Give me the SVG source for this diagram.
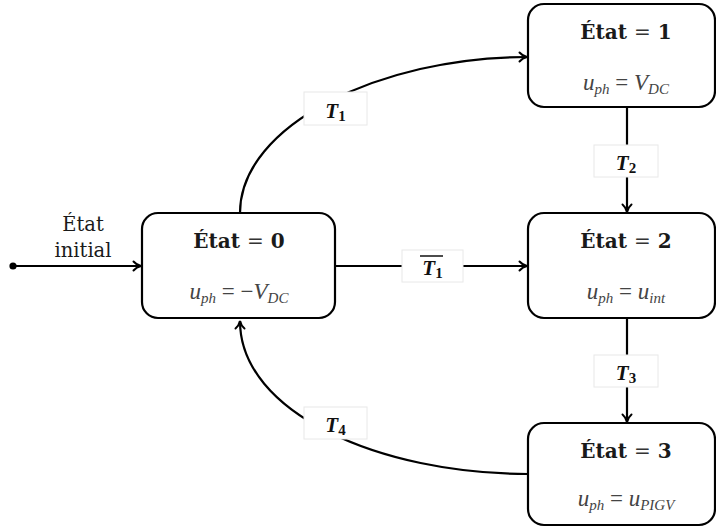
<svg xmlns="http://www.w3.org/2000/svg" width="716" height="528" viewBox="0 0 716 528">
<style>
.node rect{fill:#fff;stroke:#000;stroke-width:2.2}
.title{font-family:"DejaVu Serif","Liberation Serif",serif;font-weight:bold;font-size:20px;fill:#1a1a1a;text-anchor:middle}
.title .eq{font-weight:normal;fill:#333}
.math{font-family:"Liberation Serif","DejaVu Serif",serif;font-style:italic;font-size:23px;fill:#444;text-anchor:middle}
.math .up{font-style:normal}
.sb{font-size:15px}
.edge{fill:none;stroke:#000;stroke-width:2.2}
.lbox{fill:#fff;stroke:#e8e8e8;stroke-width:1}
.lab{font-family:"Liberation Serif","DejaVu Serif",serif;font-style:italic;font-weight:bold;font-size:21px;fill:#111;text-anchor:middle}
.lab .sb{font-size:15px;font-style:normal}
.init{font-family:"DejaVu Serif","Liberation Serif",serif;font-size:19.5px;fill:#1a1a1a;text-anchor:middle}
</style>
<defs>
<marker id="arr" viewBox="0 0 12 12" refX="10.5" refY="6" markerWidth="12" markerHeight="12" markerUnits="userSpaceOnUse" orient="auto">
<path d="M3,1.5 Q6,5 10.5,6 Q6,7 3,10.5" fill="none" stroke="#000" stroke-width="2" stroke-linecap="round"/>
</marker>
</defs>
<g id="connectors">
<circle cx="13" cy="266" r="3.6" fill="#000"/>
<path class="edge" d="M13,266 H141" marker-end="url(#arr)"/>
<path class="edge" d="M335,266 H527" marker-end="url(#arr)"/>
<path class="edge" d="M240,213 C240,125 380,57 527,57" marker-end="url(#arr)"/>
<path class="edge" d="M627,107 V212" marker-end="url(#arr)"/>
<path class="edge" d="M627,318 V422" marker-end="url(#arr)"/>
<path class="edge" d="M528,474 C380,474 240,413 240,321" marker-end="url(#arr)"/>
<rect class="lbox" x="304" y="92" width="63" height="33"/>
<text class="lab" x="335.5" y="118">T<tspan class="sb" dy="3">1</tspan></text>
<rect class="lbox" x="402" y="250" width="61" height="32"/>
<text class="lab" x="432.5" y="275">T<tspan class="sb" dy="3">1</tspan></text>
<line x1="420" y1="256" x2="443" y2="256" stroke="#111" stroke-width="1.5"/>
<rect class="lbox" x="594" y="145" width="64" height="32"/>
<text class="lab" x="626" y="170">T<tspan class="sb" dy="3">2</tspan></text>
<rect class="lbox" x="594" y="355" width="64" height="32"/>
<text class="lab" x="626" y="380">T<tspan class="sb" dy="3">3</tspan></text>
<rect class="lbox" x="304" y="407" width="63" height="32"/>
<text class="lab" x="335.5" y="432">T<tspan class="sb" dy="3">4</tspan></text>
<text class="init" x="83" y="231">État</text>
<text class="init" x="83" y="257">initial</text>
</g>
<g id="node0" class="node">
<rect x="142" y="213" width="193" height="105" rx="16"/>
<text class="title" x="239" y="248" xml:space="preserve">État <tspan class="eq">=</tspan> 0</text>
<text class="math" x="239" y="299">u<tspan class="sb" dy="4">ph</tspan><tspan class="up" dy="-4"> = −</tspan>V<tspan class="sb" dy="4">DC</tspan></text>
</g>
<g id="node1" class="node">
<rect x="528" y="4" width="187" height="103" rx="16"/>
<text class="title" x="626" y="39" xml:space="preserve">État <tspan class="eq">=</tspan> 1</text>
<text class="math" x="626" y="90">u<tspan class="sb" dy="4">ph</tspan><tspan class="up" dy="-4"> = </tspan>V<tspan class="sb" dy="4">DC</tspan></text>
</g>
<g id="node2" class="node">
<rect x="528" y="213" width="187" height="105" rx="16"/>
<text class="title" x="626" y="248" xml:space="preserve">État <tspan class="eq">=</tspan> 2</text>
<text class="math" x="626" y="299">u<tspan class="sb" dy="4">ph</tspan><tspan class="up" dy="-4"> = </tspan>u<tspan class="sb" dy="4">int</tspan></text>
</g>
<g id="node3" class="node">
<rect x="528" y="423" width="187" height="102" rx="16"/>
<text class="title" x="626" y="458" xml:space="preserve">État <tspan class="eq">=</tspan> 3</text>
<text class="math" x="626" y="506">u<tspan class="sb" dy="4">ph</tspan><tspan class="up" dy="-4"> = </tspan>u<tspan class="sb" dy="4">PIGV</tspan></text>
</g>
</svg>
